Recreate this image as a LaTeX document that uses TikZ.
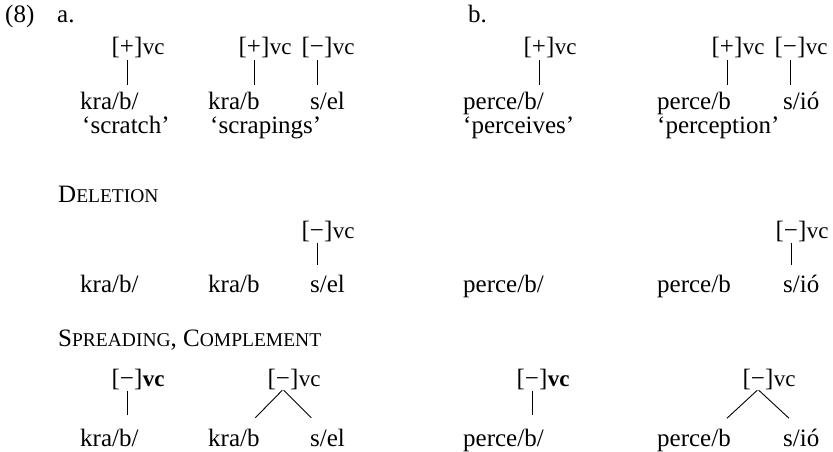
\documentclass[tikz,border=0pt]{standalone}
\usepackage{fontspec}
\setmainfont{Liberation Serif}
\usetikzlibrary{calc}

\newcommand{\vcf}{{\fontsize{23}{26}\selectfont vc}}
\newcommand{\vcb}{{\fontsize{23}{26}\selectfont\bfseries vc}}
\newcommand{\scap}[2]{#1{\fontsize{19.5}{22}\selectfont #2}}

\tikzset{
  word/.style={anchor=base west,inner sep=0pt},
  feat/.style={anchor=base,inner sep=0pt},
  link/.style={line width=.9pt,shorten <=1pt,shorten >=7pt},
  branch/.style={line width=.9pt,shorten <=1pt,shorten >=15pt},
}

\begin{document}
\begin{tikzpicture}[x=1pt,y=-1pt,font=\fontsize{25}{29}\selectfont]
\useasboundingbox (0,0) rectangle (833,452);

%% headings
\node[word] (ex) at (5,23) {(8)};
\node[word] (pa) at (57,23) {a.};
\node[word] (pb) at (468,23) {b.};

%% underlying forms, a.
\node[feat] (fa1) at (127,55) {[+]};
\node[word] (fa1v) at (fa1.base east) {\vcf};
\node[feat] (fa2) at (254,55) {[+]};
\node[word] (fa2v) at (fa2.base east) {\vcf};
\node[feat] (fa3) at (317,55) {[−]};
\node[word] (fa3v) at (fa3.base east) {\vcf};

\node[word] (ka1) at (80,110) {kra/b/};
\node[word] (kb1) at (208,110) {kra/b};
\node[word] (se1) at (310,110) {s/el};
\node[word] (ga1) at (82,133) {`scratch'};
\node[word] (ga2) at (210,133) {`scrapings'};

\draw[link] (fa1.south) -- (fa1.south |- ka1.north);
\draw[link] (fa2.south) -- (fa2.south |- kb1.north);
\draw[link] (fa3.south) -- (fa3.south |- se1.north);

%% underlying forms, b.
\node[feat] (fb1) at (539,55) {[+]};
\node[word] (fb1v) at (fb1.base east) {\vcf};
\node[feat] (fb2) at (727,55) {[+]};
\node[word] (fb2v) at (fb2.base east) {\vcf};
\node[feat] (fb3) at (790,55) {[−]};
\node[word] (fb3v) at (fb3.base east) {\vcf};

\node[word] (pa1) at (463,110) {perce/b/};
\node[word] (pb1) at (657,110) {perce/b};
\node[word] (si1) at (783,110) {s/ió};
\node[word] (gb1) at (463,133) {`perceives'};
\node[word] (gb2) at (657,133) {`perception'};

\draw[link] (fb1.south) -- (fb1.south |- pa1.north);
\draw[link] (fb2.south) -- (fb2.south |- pb1.north);
\draw[link] (fb3.south) -- (fb3.south |- si1.north);

%% deletion
\node[word] (del) at (58,202) {\scap{D}{ELETION}};

\node[feat] (fa4) at (317,238) {[−]};
\node[word] (fa4v) at (fa4.base east) {\vcf};
\node[word] (ka2) at (80,292) {kra/b/};
\node[word] (kb2) at (208,292) {kra/b};
\node[word] (se2) at (310,292) {s/el};
\draw[link,shorten >=9pt] (fa4.south) -- (fa4.south |- se2.north);

\node[feat] (fb4) at (791,238) {[−]};
\node[word] (fb4v) at (fb4.base east) {\vcf};
\node[word] (pa2) at (463,292) {perce/b/};
\node[word] (pb2) at (657,292) {perce/b};
\node[word] (si2) at (783,292) {s/ió};
\draw[link,shorten >=9pt] (fb4.south) -- (fb4.south |- si2.north);

%% spreading, complement
\node[word] (spr) at (58,346) {\scap{S}{PREADING}, \scap{C}{OMPLEMENT}};

\node[feat] (fa5) at (127,386) {[−]};
\node[word] (fa5v) at (fa5.base east) {\vcb};
\node[feat] (fa6) at (283,386) {[−]};
\node[word] (fa6v) at (fa6.base east) {\vcf};
\node[word] (ka3) at (80,446) {kra/b/};
\node[word] (kb3) at (208,446) {kra/b};
\node[word] (se3) at (310,446) {s/el};
\draw[link,shorten >=13pt] (fa5.south) -- (fa5.south |- ka3.north);
\draw[branch] (fa6.south) -- ([xshift=-15pt]kb3.north east);
\draw[branch] (fa6.south) -- ([xshift=12pt]se3.north west);

\node[feat] (fb5) at (532,386) {[−]};
\node[word] (fb5v) at (fb5.base east) {\vcb};
\node[feat] (fb6) at (758,386) {[−]};
\node[word] (fb6v) at (fb6.base east) {\vcf};
\node[word] (pa3) at (463,446) {perce/b/};
\node[word] (pb3) at (657,446) {perce/b};
\node[word] (si3) at (783,446) {s/ió};
\draw[link,shorten >=13pt] (fb5.south) -- (fb5.south |- pa3.north);
\draw[branch] (fb6.south) -- ([xshift=-15pt]pb3.north east);
\draw[branch] (fb6.south) -- ([xshift=17pt]si3.north west);
\end{tikzpicture}
\end{document}
